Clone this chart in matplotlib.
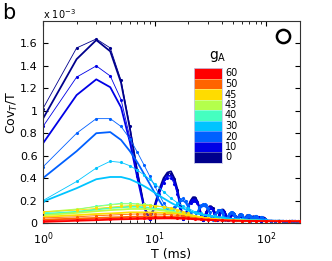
import matplotlib
matplotlib.use("Agg")
import matplotlib.pyplot as plt
import numpy as np
from matplotlib.colors import ListedColormap

plt.rcParams['font.family'] = ['DejaVu Sans']

# ---------------- data (units of 1e-3) ----------------
g_levels = [0, 10, 20, 30, 40, 43, 45, 50, 60]
g_colors = ['#00008C', '#0000E6', '#0060FF', '#00C4FF', '#45FFC0',
            '#B4FF4C', '#FFDC00', '#FF6400', '#FF0000']

T_fine = list(range(1, 101)) + [110, 120, 130, 140, 150, 160, 170, 180, 190, 200]
T_coarse = [1, 2, 3, 4, 5, 6, 7, 8, 9, 10, 12, 14, 16, 18, 20, 23, 26, 30, 35, 40,
            50, 60, 70, 80, 100, 130, 160, 200]

g0_thick = [0.93, 1.46, 1.63, 1.53, 1.25, 0.84, 0.45, 0.16, 0.03,
            0.16, 0.30, 0.40, 0.45, 0.46, 0.40, 0.30, 0.16, 0.03,
            0.08, 0.15, 0.20, 0.23, 0.23, 0.20, 0.15, 0.08, 0.02,
            0.06, 0.10, 0.13, 0.15, 0.15, 0.13, 0.10, 0.06, 0.02,
            0.05, 0.08, 0.11, 0.12, 0.12, 0.11, 0.08, 0.05, 0.02,
            0.04, 0.07, 0.085, 0.095, 0.095, 0.085, 0.07, 0.04, 0.02,
            0.035, 0.055, 0.07, 0.08, 0.08, 0.07, 0.055, 0.035, 0.02,
            0.03, 0.05, 0.06, 0.07, 0.07, 0.06, 0.05, 0.03, 0.02,
            0.03, 0.045, 0.055, 0.06, 0.06, 0.055, 0.045, 0.03, 0.02,
            0.03, 0.04, 0.05, 0.055, 0.055, 0.05, 0.04, 0.03, 0.02,
            0.025, 0.035, 0.045, 0.05, 0.05, 0.045, 0.035, 0.025, 0.02,
            0.02,
            0.02, 0.018, 0.02, 0.017, 0.019, 0.018, 0.02, 0.017, 0.018, 0.017]
g0_thin = [1.02, 1.56, 1.64, 1.56, 1.27, 0.86, 0.47, 0.17, 0.04,
           0.15, 0.29, 0.39, 0.44, 0.44, 0.39, 0.29, 0.15, 0.04,
           0.09, 0.15, 0.20, 0.22, 0.22, 0.19, 0.14, 0.08, 0.03,
           0.06, 0.10, 0.13, 0.14, 0.14, 0.13, 0.10, 0.06, 0.03,
           0.05, 0.08, 0.10, 0.115, 0.11, 0.10, 0.08, 0.05, 0.03,
           0.04, 0.065, 0.08, 0.09, 0.09, 0.08, 0.065, 0.04, 0.025,
           0.035, 0.05, 0.065, 0.075, 0.07, 0.065, 0.05, 0.035, 0.025,
           0.03, 0.045, 0.055, 0.065, 0.065, 0.055, 0.045, 0.03, 0.025,
           0.03, 0.04, 0.05, 0.055, 0.055, 0.05, 0.04, 0.03, 0.02,
           0.03, 0.04, 0.045, 0.05, 0.05, 0.045, 0.04, 0.03, 0.02,
           0.025, 0.035, 0.04, 0.045, 0.045, 0.04, 0.035, 0.025, 0.02,
           0.02,
           0.022, 0.02, 0.019, 0.021, 0.018, 0.02, 0.019, 0.02, 0.018, 0.019]
g10_thick = [0.71, 1.14, 1.28, 1.21, 1.03, 0.72, 0.40, 0.14, 0.03,
             0.14, 0.27, 0.37, 0.42, 0.42, 0.37, 0.27, 0.14, 0.03,
             0.08, 0.14, 0.19, 0.21, 0.21, 0.19, 0.14, 0.08, 0.02,
             0.05, 0.09, 0.12, 0.14, 0.14, 0.12, 0.09, 0.05, 0.02,
             0.045, 0.075, 0.10, 0.11, 0.11, 0.10, 0.075, 0.045, 0.02,
             0.04, 0.06, 0.08, 0.085, 0.085, 0.08, 0.06, 0.04, 0.02,
             0.035, 0.05, 0.065, 0.07, 0.07, 0.065, 0.05, 0.035, 0.02,
             0.03, 0.045, 0.055, 0.06, 0.06, 0.055, 0.045, 0.03, 0.02,
             0.03, 0.04, 0.05, 0.055, 0.055, 0.05, 0.04, 0.03, 0.02,
             0.025, 0.035, 0.045, 0.05, 0.05, 0.045, 0.035, 0.025, 0.02,
             0.025, 0.03, 0.04, 0.045, 0.045, 0.04, 0.03, 0.025, 0.02,
             0.02,
             0.02, 0.019, 0.018, 0.02, 0.017, 0.019, 0.018, 0.02, 0.017, 0.018]
g10_thin = [0.86, 1.30, 1.40, 1.31, 1.10, 0.76, 0.42, 0.15, 0.04,
            0.13, 0.26, 0.36, 0.40, 0.40, 0.35, 0.26, 0.13, 0.04,
            0.08, 0.14, 0.18, 0.20, 0.20, 0.18, 0.13, 0.08, 0.03,
            0.05, 0.09, 0.12, 0.13, 0.13, 0.12, 0.09, 0.05, 0.03,
            0.045, 0.07, 0.095, 0.105, 0.105, 0.095, 0.07, 0.045, 0.025,
            0.04, 0.06, 0.075, 0.085, 0.08, 0.075, 0.06, 0.04, 0.025,
            0.035, 0.05, 0.06, 0.07, 0.07, 0.06, 0.05, 0.035, 0.025,
            0.03, 0.045, 0.055, 0.06, 0.06, 0.055, 0.045, 0.03, 0.02,
            0.03, 0.04, 0.05, 0.05, 0.05, 0.05, 0.04, 0.03, 0.02,
            0.025, 0.035, 0.045, 0.05, 0.045, 0.045, 0.035, 0.025, 0.02,
            0.025, 0.03, 0.04, 0.045, 0.04, 0.04, 0.03, 0.025, 0.02,
            0.02,
            0.021, 0.019, 0.02, 0.018, 0.02, 0.019, 0.018, 0.02, 0.019, 0.018]
g20_thin = [0.50, 0.80, 0.93, 0.93, 0.86, 0.75, 0.63, 0.52, 0.42, 0.33, 0.25, 0.18,
            0.13, 0.12, 0.14, 0.18, 0.21, 0.22, 0.20, 0.16, 0.10, 0.05,
            0.06, 0.10, 0.14, 0.16, 0.17, 0.17, 0.16, 0.13, 0.10, 0.06, 0.03,
            0.05, 0.08, 0.10, 0.12, 0.12, 0.12, 0.10, 0.08, 0.05, 0.03,
            0.04, 0.06, 0.08, 0.09, 0.095, 0.095, 0.09, 0.08, 0.06, 0.04, 0.03,
            0.04, 0.055, 0.07, 0.075, 0.08, 0.075, 0.07, 0.055, 0.04, 0.03,
            0.035, 0.05, 0.06, 0.065, 0.07, 0.07, 0.065, 0.06, 0.05, 0.035, 0.025,
            0.03, 0.045, 0.055, 0.06, 0.06, 0.06, 0.055, 0.045, 0.035, 0.03, 0.025,
            0.03, 0.04, 0.05, 0.05, 0.05, 0.045, 0.04, 0.03, 0.025, 0.025,
            0.03, 0.035, 0.03, 0.025,
            0.022, 0.02, 0.021, 0.019, 0.02, 0.018, 0.02, 0.019, 0.02, 0.018]
g20_thick = [0.40, 0.64, 0.80, 0.81, 0.74, 0.64, 0.54, 0.44, 0.35, 0.27, 0.20, 0.14,
             0.10, 0.10, 0.12, 0.16, 0.19, 0.20, 0.18, 0.14, 0.09, 0.04,
             0.05, 0.09, 0.12, 0.14, 0.15, 0.15, 0.14, 0.12, 0.09, 0.05, 0.03,
             0.045, 0.07, 0.09, 0.105, 0.11, 0.105, 0.09, 0.07, 0.045, 0.03,
             0.035, 0.055, 0.07, 0.08, 0.085, 0.085, 0.08, 0.07, 0.055, 0.035, 0.025,
             0.035, 0.05, 0.06, 0.07, 0.07, 0.07, 0.06, 0.05, 0.035, 0.025,
             0.03, 0.045, 0.055, 0.06, 0.065, 0.065, 0.06, 0.055, 0.045, 0.03, 0.025,
             0.03, 0.04, 0.05, 0.055, 0.055, 0.055, 0.05, 0.04, 0.03, 0.025, 0.02,
             0.03, 0.04, 0.045, 0.045, 0.045, 0.04, 0.035, 0.03, 0.025, 0.02,
             0.025, 0.03, 0.025, 0.02,
             0.02, 0.019, 0.02, 0.018, 0.019, 0.018, 0.02, 0.018, 0.019, 0.017]

g30_thin = [0.20, 0.37, 0.49, 0.55, 0.54, 0.51, 0.47, 0.43, 0.39, 0.35, 0.28, 0.22, 0.18, 0.15,
            0.13, 0.10, 0.085, 0.07, 0.06, 0.05, 0.04, 0.035, 0.03, 0.03, 0.025, 0.02, 0.02, 0.02]
g30_thick = [0.19, 0.31, 0.39, 0.41, 0.41, 0.39, 0.36, 0.33, 0.30, 0.27, 0.22, 0.18, 0.15, 0.13,
             0.11, 0.09, 0.075, 0.065, 0.055, 0.045, 0.035, 0.03, 0.03, 0.025, 0.02, 0.02, 0.018, 0.018]
g40_thin = [0.09, 0.12, 0.15, 0.165, 0.175, 0.175, 0.17, 0.165, 0.16, 0.155, 0.14, 0.12, 0.10, 0.085,
            0.07, 0.055, 0.045, 0.04, 0.035, 0.03, 0.025, 0.025, 0.02, 0.02, 0.02, 0.018, 0.018, 0.018]
g40_thick = [0.08, 0.10, 0.12, 0.135, 0.14, 0.145, 0.145, 0.14, 0.135, 0.13, 0.12, 0.105, 0.09, 0.075,
             0.065, 0.05, 0.045, 0.04, 0.035, 0.03, 0.025, 0.022, 0.02, 0.02, 0.018, 0.018, 0.017, 0.017]
g43_thin = [0.10, 0.125, 0.145, 0.16, 0.17, 0.17, 0.168, 0.165, 0.16, 0.155, 0.145, 0.13, 0.11, 0.09,
            0.075, 0.06, 0.05, 0.04, 0.035, 0.03, 0.025, 0.022, 0.02, 0.02, 0.018, 0.018, 0.018, 0.017]
g43_thick = [0.07, 0.09, 0.105, 0.115, 0.12, 0.125, 0.125, 0.125, 0.12, 0.12, 0.11, 0.10, 0.09, 0.08,
             0.07, 0.055, 0.045, 0.04, 0.035, 0.03, 0.025, 0.022, 0.02, 0.02, 0.018, 0.017, 0.017, 0.017]
g45_thin = [0.10, 0.115, 0.13, 0.14, 0.15, 0.155, 0.155, 0.155, 0.155, 0.15, 0.145, 0.135, 0.12, 0.10,
            0.085, 0.065, 0.055, 0.045, 0.035, 0.03, 0.025, 0.022, 0.02, 0.02, 0.018, 0.018, 0.017, 0.017]
g45_thick = [0.055, 0.07, 0.08, 0.085, 0.09, 0.095, 0.095, 0.095, 0.095, 0.095, 0.09, 0.088, 0.082, 0.075,
             0.065, 0.055, 0.045, 0.04, 0.032, 0.028, 0.024, 0.022, 0.02, 0.02, 0.018, 0.017, 0.017, 0.016]
g50_thin = [0.045, 0.055, 0.065, 0.07, 0.075, 0.078, 0.08, 0.08, 0.08, 0.08, 0.077, 0.073, 0.068, 0.062,
            0.055, 0.047, 0.04, 0.035, 0.03, 0.027, 0.023, 0.021, 0.02, 0.019, 0.018, 0.017, 0.017, 0.016]
g50_thick = [0.03, 0.04, 0.045, 0.05, 0.052, 0.055, 0.056, 0.057, 0.058, 0.058, 0.057, 0.055, 0.053, 0.05,
             0.046, 0.04, 0.035, 0.031, 0.027, 0.025, 0.022, 0.02, 0.019, 0.018, 0.017, 0.016, 0.016, 0.016]
g60_thin = [0.02, 0.03, 0.035, 0.04, 0.042, 0.045, 0.046, 0.047, 0.048, 0.05, 0.05, 0.05, 0.049, 0.047,
            0.044, 0.039, 0.034, 0.03, 0.027, 0.024, 0.021, 0.02, 0.019, 0.018, 0.017, 0.016, 0.016, 0.015]
g60_thick = [0.01, 0.02, 0.025, 0.03, 0.033, 0.035, 0.037, 0.038, 0.039, 0.04, 0.041, 0.041, 0.04, 0.039,
             0.037, 0.033, 0.03, 0.027, 0.024, 0.022, 0.02, 0.019, 0.018, 0.017, 0.016, 0.015, 0.015, 0.015]

series = [  # (T, thin-with-markers, thick, colour index)
    (T_fine, g0_thin, g0_thick, 0),
    (T_fine, g10_thin, g10_thick, 1),
    (T_fine, g20_thin, g20_thick, 2),
    (T_coarse, g30_thin, g30_thick, 3),
    (T_coarse, g40_thin, g40_thick, 4),
    (T_coarse, g43_thin, g43_thick, 5),
    (T_coarse, g45_thin, g45_thick, 6),
    (T_coarse, g50_thin, g50_thick, 7),
    (T_coarse, g60_thin, g60_thick, 8),
]

y_ticks = [0, 0.2, 0.4, 0.6, 0.8, 1.0, 1.2, 1.4, 1.6]

# ---------------- figure ----------------
W, H = 332, 261
fig = plt.figure(figsize=(W / 100, H / 100), dpi=100)
ax = fig.add_axes([43 / W, (H - 223) / H, 257 / W, 202 / H])

for T, thin, thick, ci in series:
    assert len(T) == len(thin) == len(thick)
    c = g_colors[ci]
    ax.plot(T, thick, '-', color=c, lw=1.3, zorder=2 + ci * 0.1)
    ax.plot(T, thin, '-', color=c, lw=0.6, marker='.', ms=2.5, zorder=2 + ci * 0.1)

ax.set_xscale('log')
ax.set_xlim(1, 200)
ax.set_ylim(0, 1.8)
ax.set_yticks(y_ticks)
ax.set_yticklabels(['%g' % v for v in y_ticks])
ax.tick_params(which='both', direction='in', top=True, right=True, labelsize=8)
ax.tick_params(axis='y', pad=4)
ax.tick_params(axis='x', pad=5)
ax.tick_params(which='major', length=3.5)
ax.tick_params(which='minor', length=2)
for s in ax.spines.values():
    s.set_color('#333333')
    s.set_linewidth(0.8)

ax.set_xlabel('T (ms)', fontsize=9, labelpad=1)
ax.set_ylabel('Cov$_T$/T', fontsize=9)
ax.yaxis.set_label_coords(-0.09, 0.55)
fig.text(43 / W, 1 - 14 / H, 'x 10$^{-3}$', fontsize=7, ha='left', va='center')
fig.text(2 / W, 1 - 13 / H, 'b', fontsize=15, ha='left', va='center')

# open circle symbol
ax.plot([0.934], [0.926], 'o', mfc='none', mec='k', ms=9.5, mew=1.8,
        transform=ax.transAxes, clip_on=False)

# colour-bar legend
cax = fig.add_axes([194 / W, (H - 163) / H, 28 / W, 95 / H])
cmap = ListedColormap(g_colors[::-1])
cax.imshow(np.arange(len(g_levels))[:, None], cmap=cmap, aspect='auto',
           interpolation='nearest')
for k in range(1, len(g_levels)):
    cax.axhline(k - 0.5, color='white', lw=0.4, alpha=0.6)
cax.set_xticks([])
cax.set_yticks([])
for s in cax.spines.values():
    s.set_color('#c8c8e8')
    s.set_linewidth(0.6)
for k, g in enumerate(g_levels[::-1]):
    fig.text(225 / W, (H - (73.5 + k * 10.5)) / H, str(g), fontsize=7,
             ha='left', va='center')
fig.text(218 / W, 1 - 56 / H, 'g$_\\mathrm{A}$', fontsize=10, ha='center', va='center')

fig.savefig('out.png', dpi=100)
